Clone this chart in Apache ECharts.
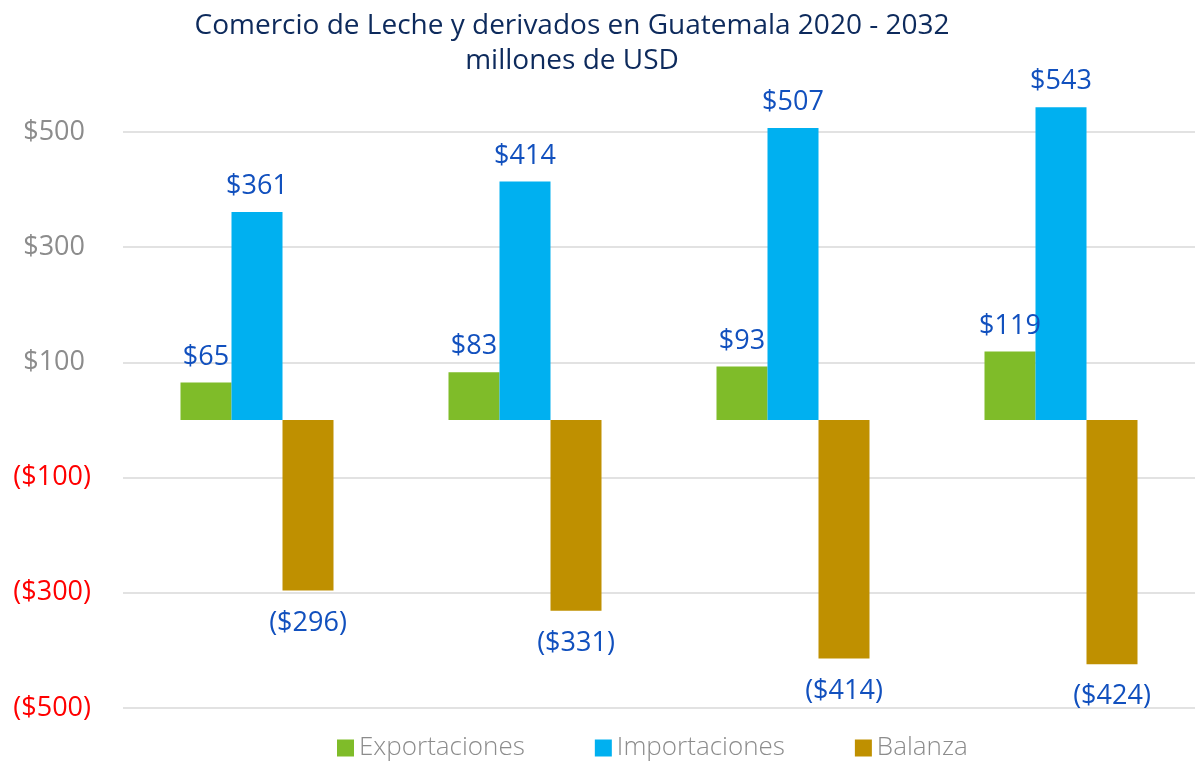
<!DOCTYPE html>
<html>
<head>
<meta charset="utf-8">
<script src="https://cdn.jsdelivr.net/npm/echarts@6/dist/echarts.min.js"></script>
<style>html,body{margin:0;padding:0;background:#fff}#c{width:1197px;height:766px}</style>
</head>
<body>
<div id="c"></div>
<script>
const categories = ['2020', '2024', '2028', '2032'];
const exportaciones = [65, 83, 93, 119];
const importaciones = [361, 414, 507, 543];
const balanza = [-296, -331, -414, -424];
const seriesNames = ['Exportaciones', 'Importaciones', 'Balanza'];
const yTicks = [-500, -300, -100, 100, 300, 500];

const fmt = v => v < 0 ? '($' + Math.abs(v) + ')' : '$' + v;
const FONT = '"Open Sans", "Noto Sans", sans-serif';
const labelColor = '#1150BE';

function mkSeries(name, data, color) {
  return {
    name: name,
    type: 'bar',
    data: data,
    barWidth: 51,
    barGap: '0%',
    clip: false,
    itemStyle: { color: color },
    label: {
      show: true,
      position: 'top',
      distance: 12,
      color: labelColor,
      fontSize: 27,
      fontFamily: FONT,
      formatter: p => fmt(p.value)
    }
  };
}

const chart = echarts.init(document.getElementById('c'));
const s1 = mkSeries(seriesNames[0], exportaciones, '#7FBC29');
const s2 = mkSeries(seriesNames[1], importaciones, '#00B0F0');
const s3 = mkSeries(seriesNames[2], balanza, '#BF9000');
s3.label.position = 'bottom';
s3.label.distance = 19;

chart.setOption({
  animation: false,
  title: {
    text: 'Comercio de Leche y derivados en Guatemala 2020 - 2032\nmillones de USD',
    left: 567,
    textAlign: 'center',
    top: 4,
    textStyle: { fontFamily: FONT, fontSize: 28, fontWeight: 'normal', color: '#0D2A5C', lineHeight: 35 }
  },
  legend: {
    bottom: 0,
    left: 332,
    itemWidth: 17,
    itemHeight: 17,
    itemGap: 70,
    icon: 'rect',
    textStyle: { fontFamily: FONT, fontSize: 26, color: '#8C8C8C', fontWeight: 300 },
    data: seriesNames
  },
  grid: { left: 123, right: 2, top: 132, bottom: 58 },
  xAxis: {
    type: 'category',
    data: categories,
    axisLine: { show: false },
    axisTick: { show: false },
    axisLabel: { show: false }
  },
  yAxis: {
    type: 'value',
    min: -500,
    max: 500,
    interval: 200,
    axisLine: { show: false },
    axisTick: { show: false },
    splitLine: { lineStyle: { color: '#D9D9D9', width: 1.5 } },
    axisLabel: {
      margin: 32,
      fontFamily: FONT,
      fontSize: 27,
      formatter: v => yTicks.includes(v) ? (v < 0 ? '{n|' + fmt(v) + '}' : '{p|' + fmt(v) + '}') : '',
      rich: {
        p: { color: '#8C8C8C', fontSize: 27, fontFamily: FONT, padding: [0, 6, 0, 0] },
        n: { color: '#FF0000', fontSize: 27, fontFamily: FONT }
      }
    }
  },
  series: [s1, s2, s3]
});
</script>
</body>
</html>
